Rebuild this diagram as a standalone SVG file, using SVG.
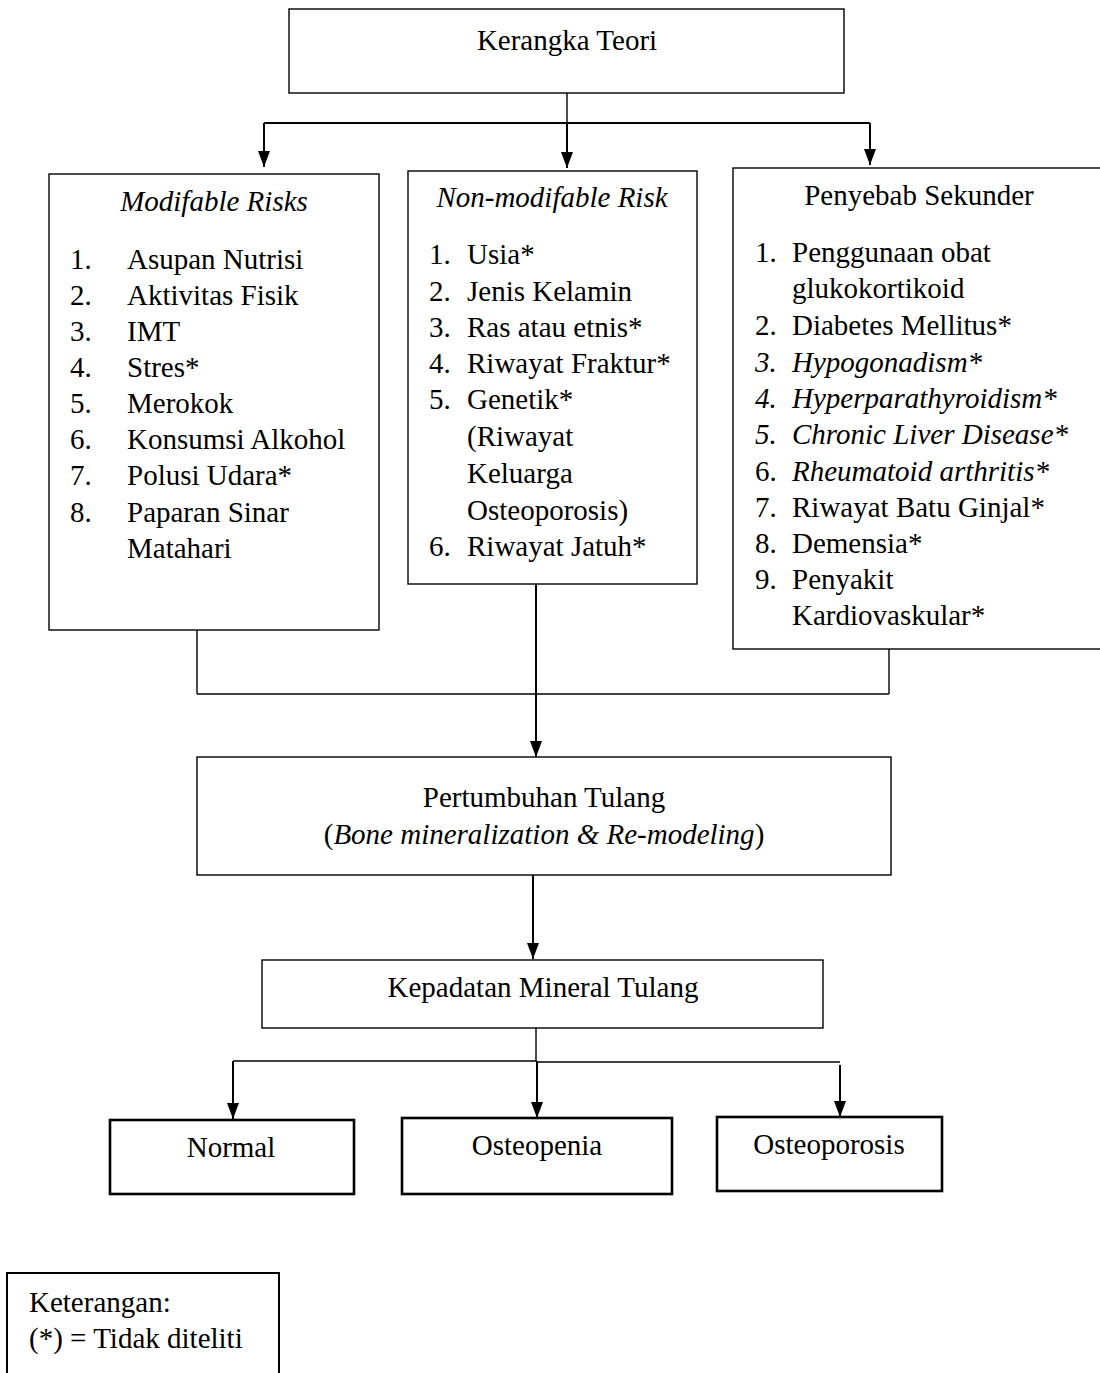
<svg xmlns="http://www.w3.org/2000/svg" width="1100" height="1373" viewBox="0 0 1100 1373">
<style>
text{font-family:"Liberation Serif","Times New Roman",serif;font-size:29px;fill:#000}
.c{text-anchor:middle}
.i{font-style:italic}
.box{fill:#fff;stroke:#000;stroke-width:1.4}
.tbox{fill:#fff;stroke:#000;stroke-width:2.6}
.ln{stroke:#000;stroke-width:1.4;fill:none}
.ar{stroke:#000;stroke-width:2;fill:none;marker-end:url(#ah)}
</style>
<defs>
<marker id="ah" markerUnits="userSpaceOnUse" markerWidth="16" markerHeight="12" refX="16" refY="6" orient="auto" viewBox="0 0 16 12">
<path d="M0,0 L16,6 L0,12 z" fill="#000"/>
</marker>
</defs>
<rect width="1100" height="1373" fill="#fff"/>
<g id="connectors">
<line class="ln" x1="567" y1="93" x2="567" y2="123"/>
<line class="ln" x1="264" y1="123" x2="870" y2="123" style="stroke-width:2"/>
<line class="ar" x1="264" y1="123" x2="264" y2="167"/>
<line class="ar" x1="567" y1="123" x2="567" y2="168"/>
<line class="ar" x1="870" y1="123" x2="870" y2="165"/>
<line class="ln" x1="197" y1="630" x2="197" y2="694"/>
<line class="ln" x1="889" y1="649" x2="889" y2="694"/>
<line class="ln" x1="197" y1="694" x2="889" y2="694"/>
<line class="ar" x1="536" y1="584" x2="536" y2="757"/>
<line class="ar" x1="533" y1="875" x2="533" y2="959"/>
<line class="ln" x1="536" y1="1028" x2="536" y2="1061"/>
<line class="ln" x1="233" y1="1061" x2="536" y2="1061"/>
<line class="ln" x1="536" y1="1062" x2="840" y2="1062"/>
<line class="ar" x1="233" y1="1061" x2="233" y2="1119"/>
<line class="ar" x1="537" y1="1061" x2="537" y2="1118"/>
<line class="ar" x1="840" y1="1065" x2="840" y2="1117"/>
</g>
<g id="kerangka-teori">
<rect class="box" x="289" y="9" width="555" height="84"/>
<text class="c" x="567" y="50">Kerangka Teori</text>
</g>
<g id="modifable-risks">
<rect class="box" x="49" y="174" width="330" height="456"/>
<text class="c i" x="214" y="211">Modifable Risks</text>
<text x="70" y="269">1.</text><text x="127" y="269">Asupan Nutrisi</text>
<text x="70" y="305">2.</text><text x="127" y="305">Aktivitas Fisik</text>
<text x="70" y="341">3.</text><text x="127" y="341">IMT</text>
<text x="70" y="377">4.</text><text x="127" y="377">Stres*</text>
<text x="70" y="413">5.</text><text x="127" y="413">Merokok</text>
<text x="70" y="449">6.</text><text x="127" y="449">Konsumsi Alkohol</text>
<text x="70" y="485">7.</text><text x="127" y="485">Polusi Udara*</text>
<text x="70" y="522">8.</text><text x="127" y="522">Paparan Sinar</text>
<text x="127" y="558">Matahari</text>
</g>
<g id="non-modifable-risk">
<rect class="box" x="408" y="171" width="289" height="413"/>
<text class="c i" x="552" y="207">Non-modifable Risk</text>
<text x="429" y="264">1.</text><text x="467" y="264">Usia*</text>
<text x="429" y="301">2.</text><text x="467" y="301">Jenis Kelamin</text>
<text x="429" y="337">3.</text><text x="467" y="337">Ras atau etnis*</text>
<text x="429" y="373">4.</text><text x="467" y="373">Riwayat Fraktur*</text>
<text x="429" y="409">5.</text><text x="467" y="409">Genetik*</text>
<text x="467" y="446">(Riwayat</text>
<text x="467" y="483">Keluarga</text>
<text x="467" y="520">Osteoporosis)</text>
<text x="429" y="556">6.</text><text x="467" y="556">Riwayat Jatuh*</text>
</g>
<g id="penyebab-sekunder">
<rect class="box" x="733" y="168" width="372" height="481"/>
<text class="c" x="919" y="205">Penyebab Sekunder</text>
<text x="755" y="262">1.</text><text x="792" y="262">Penggunaan obat</text>
<text x="792" y="298">glukokortikoid</text>
<text x="755" y="335">2.</text><text x="792" y="335">Diabetes Mellitus*</text>
<text class="i" x="755" y="372">3.</text><text class="i" x="792" y="372">Hypogonadism*</text>
<text class="i" x="755" y="408">4.</text><text class="i" x="792" y="408">Hyperparathyroidism*</text>
<text class="i" x="755" y="444">5.</text><text class="i" x="792" y="444">Chronic Liver Disease*</text>
<text x="755" y="481">6.</text><text class="i" x="792" y="481">Rheumatoid arthritis*</text>
<text x="755" y="517">7.</text><text x="792" y="517">Riwayat Batu Ginjal*</text>
<text x="755" y="553">8.</text><text x="792" y="553">Demensia*</text>
<text x="755" y="589">9.</text><text x="792" y="589">Penyakit</text>
<text x="792" y="625">Kardiovaskular*</text>
</g>
<g id="pertumbuhan-tulang">
<rect class="box" x="197" y="757" width="694" height="118"/>
<text class="c" x="544" y="807">Pertumbuhan Tulang</text>
<text class="c" x="544" y="844">(<tspan class="i">Bone mineralization &amp; Re-modeling</tspan>)</text>
</g>
<g id="kepadatan-mineral-tulang">
<rect class="box" x="262" y="960" width="561" height="68"/>
<text class="c" x="543" y="997">Kepadatan Mineral Tulang</text>
</g>
<g id="normal">
<rect class="tbox" x="110" y="1120" width="244" height="74"/>
<text class="c" x="231" y="1157">Normal</text>
</g>
<g id="osteopenia">
<rect class="tbox" x="402" y="1118" width="270" height="76"/>
<text class="c" x="537" y="1155">Osteopenia</text>
</g>
<g id="osteoporosis">
<rect class="tbox" x="717" y="1117" width="225" height="74"/>
<text class="c" x="829" y="1154">Osteoporosis</text>
</g>
<g id="keterangan">
<rect class="box" x="7" y="1273" width="272" height="120" style="stroke-width:2"/>
<text x="29" y="1312">Keterangan:</text>
<text x="29" y="1348">(*) = Tidak diteliti</text>
</g>
</svg>
